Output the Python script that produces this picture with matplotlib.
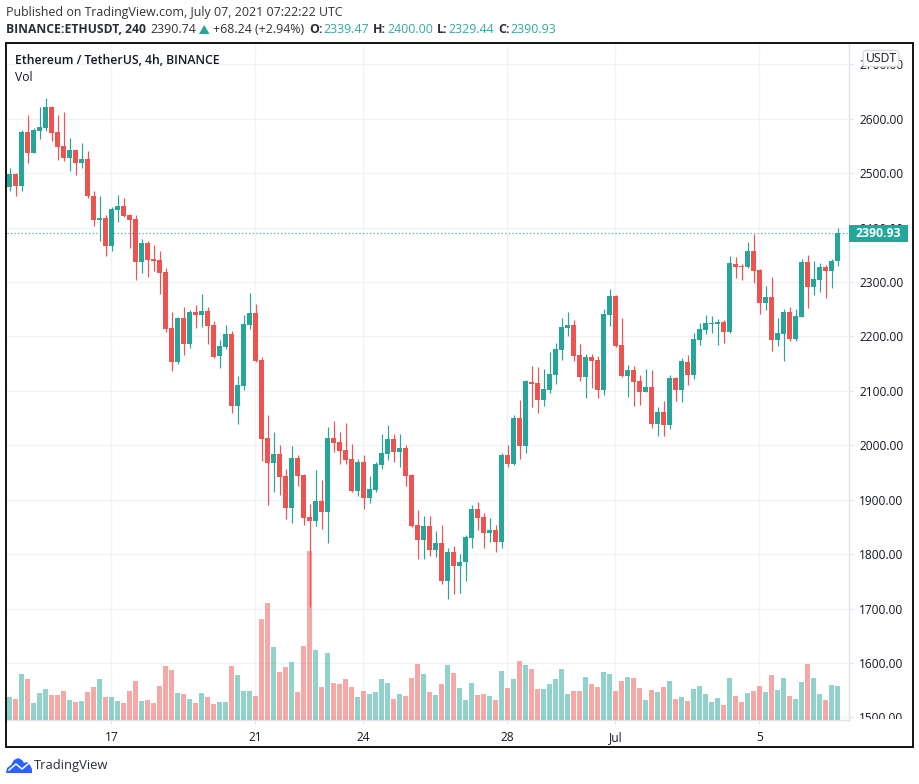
import matplotlib
matplotlib.use("Agg")
import matplotlib.pyplot as plt
from matplotlib.patches import Rectangle, Polygon, FancyBboxPatch
from matplotlib.lines import Line2D
from matplotlib.transforms import Bbox

plt.rcParams["font.family"] = ["Open Sans", "DejaVu Sans"]

# 4h candles
opens = [
    2475, 2499, 2477, 2576, 2538, 2578, 2583, 2622, 2576, 2550,
    2528, 2543, 2519, 2526, 2458, 2414, 2418, 2366, 2433, 2440,
    2423, 2416, 2337, 2372, 2342, 2341, 2319, 2216, 2153, 2234,
    2186, 2245, 2240, 2247, 2221, 2164, 2181, 2205, 2072, 2109,
    2221, 2243, 2157, 2013, 1967, 1984, 1944, 1885, 1977, 1945,
    1868, 1861, 1898, 1877, 2013, 2006, 1991, 1975, 1916, 1969,
    1903, 1918, 1964, 1984, 2012, 1988, 1995, 1945, 1854, 1826,
    1852, 1808, 1820, 1751, 1804, 1778, 1786, 1830, 1883, 1868,
    1839, 1844, 1822, 1982, 1966, 2050, 1999, 2116, 2115, 2083,
    2102, 2129, 2175, 2216, 2221, 2166, 2126, 2162, 2157, 2102,
    2240, 2274, 2184, 2127, 2138, 2118, 2098, 2107, 2039, 2061,
    2037, 2124, 2102, 2153, 2129, 2194, 2212, 2223, 2223, 2227,
    2208, 2333, 2330, 2328, 2357, 2322, 2262, 2273, 2194, 2205,
    2245, 2195, 2236, 2337, 2291, 2304, 2328, 2320, 2339.47,
]
closes = [
    2499, 2477, 2576, 2538, 2580, 2585, 2622, 2574, 2548, 2528,
    2543, 2519, 2526, 2458, 2414, 2418, 2366, 2434, 2440, 2422,
    2414, 2337, 2372, 2341, 2339, 2317, 2214, 2153, 2234, 2186,
    2245, 2240, 2247, 2219, 2162, 2183, 2205, 2072, 2111, 2223,
    2243, 2155, 2012, 1967, 1984, 1942, 1885, 1977, 1944, 1866,
    1861, 1898, 1877, 2013, 2004, 1990, 1973, 1916, 1969, 1903,
    1920, 1966, 1986, 2012, 1988, 1995, 1944, 1852, 1826, 1852,
    1808, 1820, 1751, 1804, 1778, 1786, 1831, 1883, 1866, 1839,
    1844, 1822, 1982, 1966, 2050, 1999, 2118, 2113, 2083, 2103,
    2131, 2177, 2217, 2221, 2164, 2126, 2162, 2155, 2102, 2241,
    2274, 2183, 2127, 2138, 2116, 2098, 2107, 2039, 2061, 2037,
    2124, 2102, 2155, 2129, 2195, 2214, 2225, 2225, 2227, 2208,
    2335, 2328, 2328, 2357, 2320, 2262, 2273, 2194, 2206, 2245,
    2195, 2238, 2337, 2291, 2306, 2328, 2320, 2339, 2390.93,
]
highs = [
    2510, 2501, 2580, 2607, 2583, 2622, 2638, 2624, 2607, 2613,
    2565, 2543, 2556, 2541, 2467, 2458, 2423, 2438, 2460, 2455,
    2425, 2423, 2379, 2376, 2368, 2357, 2326, 2245, 2236, 2254,
    2249, 2258, 2278, 2254, 2228, 2194, 2221, 2210, 2127, 2240,
    2280, 2260, 2162, 2056, 2024, 2001, 1956, 1999, 1982, 1947,
    1892, 1955, 1936, 2034, 2045, 2024, 2041, 2002, 1975, 1982,
    1944, 1969, 2021, 2037, 2021, 2021, 2001, 1947, 1881, 1870,
    1870, 1842, 1854, 1811, 1815, 1800, 1835, 1890, 1896, 1876,
    1866, 1854, 1986, 2001, 2056, 2083, 2120, 2146, 2144, 2140,
    2172, 2188, 2234, 2245, 2230, 2186, 2168, 2168, 2164, 2251,
    2287, 2276, 2234, 2148, 2146, 2129, 2140, 2138, 2070, 2081,
    2129, 2126, 2160, 2166, 2206, 2225, 2240, 2238, 2232, 2230,
    2348, 2346, 2333, 2374, 2388, 2324, 2293, 2309, 2234, 2251,
    2254, 2251, 2342, 2350, 2339, 2335, 2331, 2342, 2400,
]
lows = [
    2468, 2459, 2468, 2518, 2538, 2563, 2578, 2559, 2524, 2523,
    2504, 2497, 2510, 2455, 2403, 2376, 2348, 2357, 2410, 2420,
    2363, 2304, 2317, 2309, 2320, 2278, 2208, 2137, 2149, 2166,
    2179, 2216, 2217, 2186, 2160, 2142, 2177, 2059, 2039, 2102,
    2214, 2153, 1971, 1890, 1914, 1909, 1865, 1857, 1925, 1854,
    1702, 1852, 1846, 1820, 1988, 1966, 1966, 1914, 1907, 1883,
    1894, 1914, 1956, 1973, 1969, 1960, 1925, 1850, 1791, 1791,
    1797, 1795, 1745, 1717, 1727, 1729, 1751, 1811, 1844, 1811,
    1822, 1804, 1811, 1960, 1964, 1975, 1986, 2070, 2059, 2072,
    2096, 2113, 2157, 2201, 2155, 2118, 2087, 2105, 2087, 2092,
    2219, 2181, 2126, 2089, 2072, 2074, 2098, 2032, 2017, 2017,
    2030, 2081, 2080, 2111, 2122, 2184, 2205, 2206, 2184, 2188,
    2206, 2308, 2304, 2326, 2298, 2241, 2249, 2173, 2183, 2155,
    2192, 2192, 2236, 2252, 2276, 2282, 2271, 2289, 2329.44,
]
# volume in thousands, scale is a guess since the axis has no labels
volumes = [
    69, 63, 138, 123, 51, 81, 93, 75, 75, 87,
    60, 54, 57, 84, 99, 123, 69, 69, 57, 51,
    87, 117, 57, 60, 51, 102, 162, 150, 81, 78,
    63, 51, 81, 69, 48, 54, 54, 162, 135, 87,
    87, 72, 303, 351, 219, 144, 159, 174, 84, 222,
    507, 210, 99, 201, 111, 108, 123, 99, 69, 87,
    78, 84, 123, 111, 63, 78, 72, 126, 168, 138,
    84, 75, 108, 165, 141, 96, 60, 111, 75, 78,
    72, 60, 147, 96, 123, 177, 165, 153, 93, 93,
    108, 123, 153, 78, 87, 87, 129, 108, 99, 144,
    138, 87, 117, 129, 126, 96, 60, 90, 84, 99,
    117, 63, 69, 57, 93, 102, 78, 54, 66, 45,
    126, 72, 54, 81, 87, 102, 84, 135, 90, 126,
    72, 63, 114, 168, 126, 78, 60, 105, 102,
]

date_ticks = [17, 41, 59, 83, 101, 125]
date_labels = ["17", "21", "24", "28", "Jul", "5"]
price_ticks = [1500, 1600, 1700, 1800, 1900, 2000, 2100, 2200, 2300, 2400, 2500, 2600, 2700]
last_price = 2390.93

W, H = 920, 784
GREEN = "#26a69a"
RED = "#ef5350"
TEXT = "#131722"
GRID = "#f0f3f5"
EDGE = "#e0e3eb"
BAR_W = 5 / 6


def fx(x):
    return x / W


def fy(y):
    return 1 - y / H


fig = plt.figure(figsize=(W / 100, H / 100), dpi=100, facecolor="white")
ax = fig.add_axes([fx(6.5), fy(719.5), fx(849.5) - fx(6.5), fy(43.5) - fy(719.5)])

idx = list(range(len(opens)))
xlim = (-0.5, 140)
ylim = (1496, 2738.5)

# volume layer
ax_vol = ax.twinx()
ax_vol.set_ylim(0, 2028)
ax_vol.set_xlim(xlim)
ax_vol.axis("off")
vol_colors = [GREEN if c >= o else RED for o, c in zip(opens, closes)]
ax_vol.bar(idx, volumes, width=BAR_W, color=vol_colors, alpha=0.5, linewidth=0)

# candle layer
ax_c = ax.twinx()
ax_c.set_ylim(ylim)
ax_c.set_xlim(xlim)
ax_c.axis("off")
ax_c.vlines(idx, lows, highs, colors=vol_colors, linewidth=0.85)
bottoms = [min(o, c) for o, c in zip(opens, closes)]
heights = [abs(c - o) for o, c in zip(opens, closes)]
ax_c.bar(idx, heights, bottom=bottoms, width=BAR_W, color=vol_colors, linewidth=0)
ax_c.axhline(last_price, color=GREEN, lw=0.8, ls=(0, (1, 2.2)))

# twinx moves the ticks to the left, so set them up after the twins exist
ax.set_xlim(xlim)
ax.set_ylim(ylim)
ax.yaxis.tick_right()
ax.set_xticks(date_ticks)
ax.set_xticklabels(date_labels)
ax.set_yticks(price_ticks)
ax.set_yticklabels([f"{p:.2f}" for p in price_ticks])
ax.grid(True, color=GRID, lw=1.0)
ax.set_axisbelow(True)
ax.tick_params(axis="both", color=EDGE, length=3, width=0.8, labelcolor=TEXT, labelsize=8.6)
ax.tick_params(axis="y", pad=4)
ax.tick_params(axis="x", pad=5)
for name in ["top", "left"]:
    ax.spines[name].set_visible(False)
for name in ["right", "bottom"]:
    ax.spines[name].set_color(EDGE)
    ax.spines[name].set_linewidth(1.0)

# 1500 sits right on the time axis and gets cut off there
for lab in ax.get_yticklabels():
    lab.set_clip_on(True)
    lab.set_clip_box(Bbox([[850, H - 719], [W, H]]))

# outer frame
fig.add_artist(Rectangle((fx(6), fy(747)), fx(913) - fx(6), fy(43.3) - fy(747),
                         transform=fig.transFigure, fill=False, ec="black", lw=1.3, zorder=5))

# price label
fig.add_artist(Rectangle((fx(849), fy(242)), fx(908) - fx(849), fy(225) - fy(242),
                         transform=fig.transFigure, fc=GREEN, ec="none", zorder=6))
fig.text(fx(878.5), fy(233.5), "2390.93", color="white", fontsize=8.8, fontweight="bold",
         ha="center", va="center", zorder=7)

# currency button
fig.add_artist(FancyBboxPatch((fx(865), fy(65)), fx(897) - fx(865), fy(52) - fy(65),
                              boxstyle="round,pad=0.002,rounding_size=0.004", transform=fig.transFigure,
                              fc="white", ec="#d6d8de", lw=0.9, zorder=6))
fig.text(fx(881), fy(58.5), "USDT", color=TEXT, fontsize=8.7, ha="center", va="center", zorder=7)

# legend inside the chart
fig.text(fx(15), fy(60.5), "Ethereum / TetherUS, 4h, BINANCE", color=TEXT, fontsize=8.85,
         fontweight="semibold", va="center")
fig.text(fx(15), fy(77.5), "Vol", color=TEXT, fontsize=8.7, va="center")

# header lines
HEAD = "#2a2e39"
fig.text(fx(6), fy(12.5), "Published on TradingView.com, July 07, 2021 07:22:22 UTC", color="#333333",
         fontsize=8.95, va="center")
fig.text(fx(6), fy(29.5), "BINANCE:ETHUSDT, 240", color=HEAD, fontsize=8.7, fontweight="bold", va="center")
fig.text(fx(150.5), fy(29.5), "2390.74", color="#333333", fontsize=8.9, va="center")
fig.add_artist(Polygon([(fx(199), fy(34)), (fx(209.5), fy(34)), (fx(204.2), fy(25))],
                       transform=fig.transFigure, fc=GREEN, ec="none"))
fig.text(fx(213), fy(29.5), "+68.24 (+2.94%)", color="#333333", fontsize=8.9, va="center")
ohlc_parts = [("O:", 309, "2339.47", 323.5), ("H:", 373, "2400.00", 387),
              ("L:", 437, "2329.44", 448), ("C:", 498, "2390.93", 510.5)]
for key, kx, val, vx in ohlc_parts:
    fig.text(fx(kx), fy(29.5), key, color=HEAD, fontsize=8.9, fontweight="bold", va="center")
    fig.text(fx(vx), fy(29.5), val, color="#35a99d", fontsize=8.9, va="center")

# footer logo, hand drawn cloud
cloud = [(6, 773), (7, 768), (11, 765), (14, 760), (18, 758), (22, 760), (24, 763),
         (27, 762), (30, 765), (32, 769), (32, 773)]
fig.add_artist(Polygon([(fx(a), fy(b)) for a, b in cloud], transform=fig.transFigure,
                       fc="#2962ff", ec="none"))
fig.add_artist(Line2D([fx(a) for a in (9, 16, 22, 28)], [fy(b) for b in (770, 764, 769, 764)],
                      transform=fig.transFigure, color="white", lw=1.1))
fig.text(fx(34), fy(766), "TradingView", color="#2a2e39", fontsize=9.4, va="center")

fig.savefig("out.png", dpi=100)
